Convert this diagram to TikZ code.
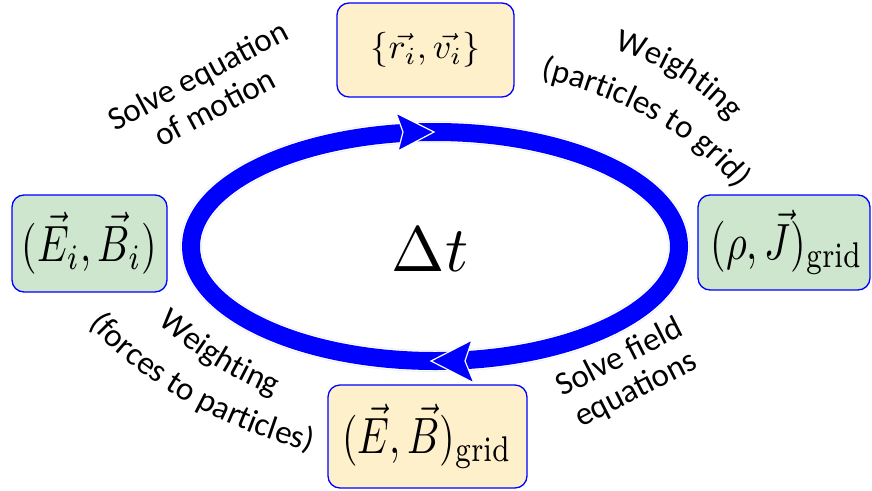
\documentclass[tikz,border=0pt]{standalone}
\usepackage{graphicx}
\usepackage{fontspec}
\newfontfamily\carlito{Carlito}
\usetikzlibrary{decorations.text}
\definecolor{boxgreen}{RGB}{205,230,205}
\definecolor{boxorange}{RGB}{255,240,204}
\definecolor{ringblue}{RGB}{0,0,255}
\newcommand\lblfont{\carlito\fontsize{33}{36}\selectfont}
\newcommand\bigmath[1]{\scalebox{4.0}[5.1]{#1}}
\tikzset{
  statebox/.style={draw=ringblue, line width=1.3pt, rounded corners=12pt, inner sep=0pt},
  lbl/.style={font=\lblfont, align=center},
  ring/.style={line width=18pt, ringblue},
  headstyle/.style={fill=ringblue, draw=white, line width=1.2pt, line join=miter}
}
\begin{document}
\begin{tikzpicture}[x=1pt,y=1pt]
\useasboundingbox (0,0) rectangle (872,-490);

% ring
\coordinate (c) at (435,-246.5);
\draw[gray!15, line width=22pt] (c) ellipse [x radius=244, y radius=114.5];
\draw[white, line width=20.5pt] (c) ellipse [x radius=244, y radius=114.5];
\draw[ring] (c) ellipse [x radius=244, y radius=114.5];
\coordinate (h1) at (434,-132);
\coordinate (h2) at (431,-361);
\fill[headstyle] (h1) -- (396,-113) -- (403,-132) -- (398,-151) -- cycle;
\fill[headstyle] (h2) -- (472,-340) -- (465,-361) -- (474,-383) -- cycle;

\node (dt) at (430,-250) {\scalebox{6.4}{$\Delta t$}};

% boxes
\node[statebox, fill=boxorange, minimum width=177pt, minimum height=94pt] (rv) at (425.5,-50)
  {\scalebox{3.6}[3.5]{$\{\vec{r_i},\vec{v_i}\}$}};
\node[statebox, fill=boxgreen, minimum width=155pt, minimum height=97pt] (EBi) at (89.5,-243.5)
  {\bigmath{$(\vec{E}_i,\vec{B}_i)$}};
\node[statebox, fill=boxgreen, minimum width=172pt, minimum height=95pt] (rhoJ) at (784,-242.5)
  {\hspace*{6pt}\bigmath{$(\rho,\vec{J})_{\mathrm{grid}}$}};
\node[statebox, fill=boxorange, minimum width=199pt, minimum height=103pt] (EBg) at (427.5,-436.5)
  {\bigmath{$(\vec{E},\vec{B})_{\mathrm{grid}}$}};

% straight labels
\node[lbl, rotate=28] (motion) at (206,-91) {Solve equation\\of motion};
\node[lbl, rotate=27] (field) at (628,-374) {Solve field\\equations};

% curved labels
\path[decorate, decoration={text along path, text align=center, text={|\lblfont|Weighting}}]
  (585,-44) .. controls (650,-54) and (712,-88) .. (748,-145);
\path[decorate, decoration={text along path, text align=center, text={|\lblfont|(particles to grid)}}]
  (515,-72) .. controls (625,-94) and (708,-140) .. (752,-210);
\path[decorate, decoration={text along path, text align=center, text={|\lblfont|Weighting}}]
  (140,-308) .. controls (186,-350) and (230,-381) .. (296,-404);
\path[decorate, decoration={text along path, text align=center, text={|\lblfont|(forces to particles)}}]
  (72,-304) .. controls (120,-370) and (215,-432) .. (336,-457);
\end{tikzpicture}
\end{document}
